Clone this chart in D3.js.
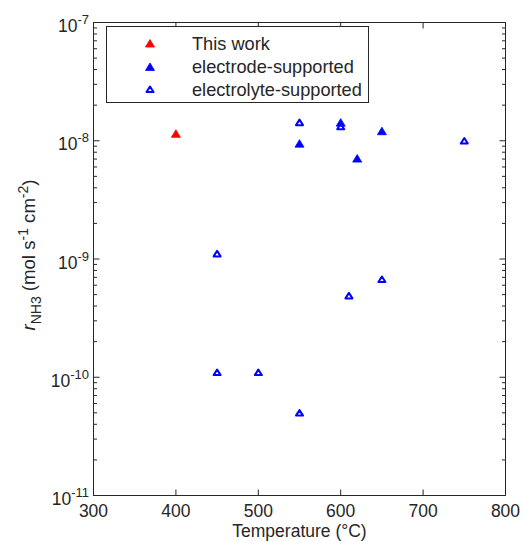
<!DOCTYPE html>
<html>
<head>
<meta charset="utf-8">
<script src="https://cdn.jsdelivr.net/npm/d3@7"></script>
<style>
  html, body { margin: 0; padding: 0; background: #fff; }
  svg { display: block; }
  text { font-family: "Liberation Sans", Arial, Helvetica, sans-serif; fill: #262626; }
</style>
</head>
<body>
<svg id="chart" width="523" height="541"></svg>
<script>
// ---- data ----
const seriesNames = ["This work", "electrode-supported", "electrolyte-supported"];
const thisWorkT = [400];
const thisWorkR = [1.15e-8];
const electrodeT = [550, 600, 620, 650];
const electrodeR = [9.5e-9, 1.43e-8, 7.1e-9, 1.21e-8];
const electrolyteT = [450, 450, 500, 550, 550, 600, 610, 650, 750];
const electrolyteR = [1.11e-9, 1.1e-10, 1.1e-10, 5.0e-11, 1.43e-8, 1.32e-8, 4.9e-10, 6.75e-10, 1.0e-8];
const xTicks = [300, 400, 500, 600, 700, 800];
const yTickExps = [-11, -10, -9, -8, -7];

// ---- layout ----
const svg = d3.select("#chart");
const L = 93.5, R = 505.5, T = 22.5, B = 495.5;
const x = d3.scaleLinear().domain([300, 800]).range([L, R]);
const y = d3.scaleLog().domain([1e-11, 1e-7]).range([B, T]);
const axisColor = "#262626";
const majorLen = 6, minorLen = 3.5;

// minor ticks
const minorVals = [];
for (let e = -11; e < -7; e++) for (let m = 2; m <= 9; m++) minorVals.push(m * Math.pow(10, e));

const g = svg.append("g");
// x ticks bottom & top
xTicks.forEach(v => {
  g.append("line").attr("x1", x(v)).attr("x2", x(v)).attr("y1", B).attr("y2", B - majorLen).attr("stroke", axisColor);
  g.append("line").attr("x1", x(v)).attr("x2", x(v)).attr("y1", T).attr("y2", T + majorLen).attr("stroke", axisColor);
});
// y ticks left & right
yTickExps.forEach(e => {
  const v = Math.pow(10, e);
  g.append("line").attr("x1", L).attr("x2", L + majorLen).attr("y1", y(v)).attr("y2", y(v)).attr("stroke", axisColor);
  g.append("line").attr("x1", R).attr("x2", R - majorLen).attr("y1", y(v)).attr("y2", y(v)).attr("stroke", axisColor);
});
minorVals.forEach(v => {
  g.append("line").attr("x1", L).attr("x2", L + minorLen).attr("y1", y(v)).attr("y2", y(v)).attr("stroke", axisColor);
  g.append("line").attr("x1", R).attr("x2", R - minorLen).attr("y1", y(v)).attr("y2", y(v)).attr("stroke", axisColor);
});
// box
g.append("rect").attr("x", L).attr("y", T).attr("width", R - L).attr("height", B - T)
  .attr("fill", "none").attr("stroke", axisColor).attr("stroke-width", 1);

// x tick labels
xTicks.forEach(v => {
  svg.append("text").attr("x", x(v)).attr("y", 517).attr("text-anchor", "middle")
    .attr("font-size", 17.5).text(v);
});
// y tick labels
yTickExps.forEach(e => {
  const t = svg.append("text").attr("x", 89).attr("y", y(Math.pow(10, e)) + 9.5)
    .attr("text-anchor", "end").attr("font-size", 17.5);
  t.append("tspan").text("10");
  t.append("tspan").attr("dy", -8).attr("font-size", 13).text(String(e));
});

// axis labels
svg.append("text").attr("x", (L + R) / 2).attr("y", 537).attr("text-anchor", "middle")
  .attr("font-size", 17.5).text("Temperature (°C)");

const yl = svg.append("text").attr("transform", "translate(35,255) rotate(-90)")
  .attr("text-anchor", "middle").attr("font-size", 18.6);
yl.append("tspan").attr("font-style", "italic").text("r");
yl.append("tspan").attr("dy", 5.5).attr("font-size", 14).text("NH3");
yl.append("tspan").attr("dy", -5.5).text(" (mol s");
yl.append("tspan").attr("dy", -7.5).attr("font-size", 14).text("-1");
yl.append("tspan").attr("dy", 7.5).text(" cm");
yl.append("tspan").attr("dy", -7.5).attr("font-size", 14).text("-2");
yl.append("tspan").attr("dy", 7.5).text(")");

// markers
const mw = 9, mh = 7.5;
function tri(cx, cy, w, h) {
  const p = d3.path();
  p.moveTo(cx, cy - h / 2); p.lineTo(cx + w / 2, cy + h / 2); p.lineTo(cx - w / 2, cy + h / 2); p.closePath();
  return p.toString();
}
const pts = svg.append("g");
pts.selectAll(".hollow").data(d3.zip(electrolyteT, electrolyteR)).join("path")
  .attr("d", d => tri(x(d[0]), y(d[1]), mw - 2, mh - 2))
  .attr("fill", "none").attr("stroke", "#0000ff").attr("stroke-width", 2).attr("stroke-linejoin", "round");
pts.selectAll(".filled").data(d3.zip(electrodeT, electrodeR)).join("path")
  .attr("d", d => tri(x(d[0]), y(d[1]), mw, mh))
  .attr("fill", "#0000ff").attr("stroke", "#0000ff").attr("stroke-width", 0.8).attr("stroke-linejoin", "round");
pts.selectAll(".red").data(d3.zip(thisWorkT, thisWorkR)).join("path")
  .attr("d", d => tri(x(d[0]), y(d[1]), mw, mh))
  .attr("fill", "#ff0000").attr("stroke", "#ff0000").attr("stroke-width", 0.8).attr("stroke-linejoin", "round");

// legend
const lg = svg.append("g");
lg.append("rect").attr("x", 106.5).attr("y", 26.5).attr("width", 262).attr("height", 76)
  .attr("fill", "#fff").attr("stroke", axisColor);
const rowsY = [43.3, 66.7, 89.3];
const legStyles = [
  { fill: "#ff0000", stroke: "#ff0000", hollow: false },
  { fill: "#0000ff", stroke: "#0000ff", hollow: false },
  { fill: "none", stroke: "#0000ff", hollow: true }
];
seriesNames.forEach((name, i) => {
  const s = legStyles[i];
  lg.append("path")
    .attr("d", s.hollow ? tri(150, rowsY[i], mw - 2, mh - 2) : tri(150, rowsY[i], mw, mh))
    .attr("fill", s.fill).attr("stroke", s.stroke).attr("stroke-width", s.hollow ? 2 : 0.8)
    .attr("stroke-linejoin", "round");
  lg.append("text").attr("x", 192).attr("y", rowsY[i] + 6.5).attr("font-size", 18.2).text(name);
});
</script>
</body>
</html>
